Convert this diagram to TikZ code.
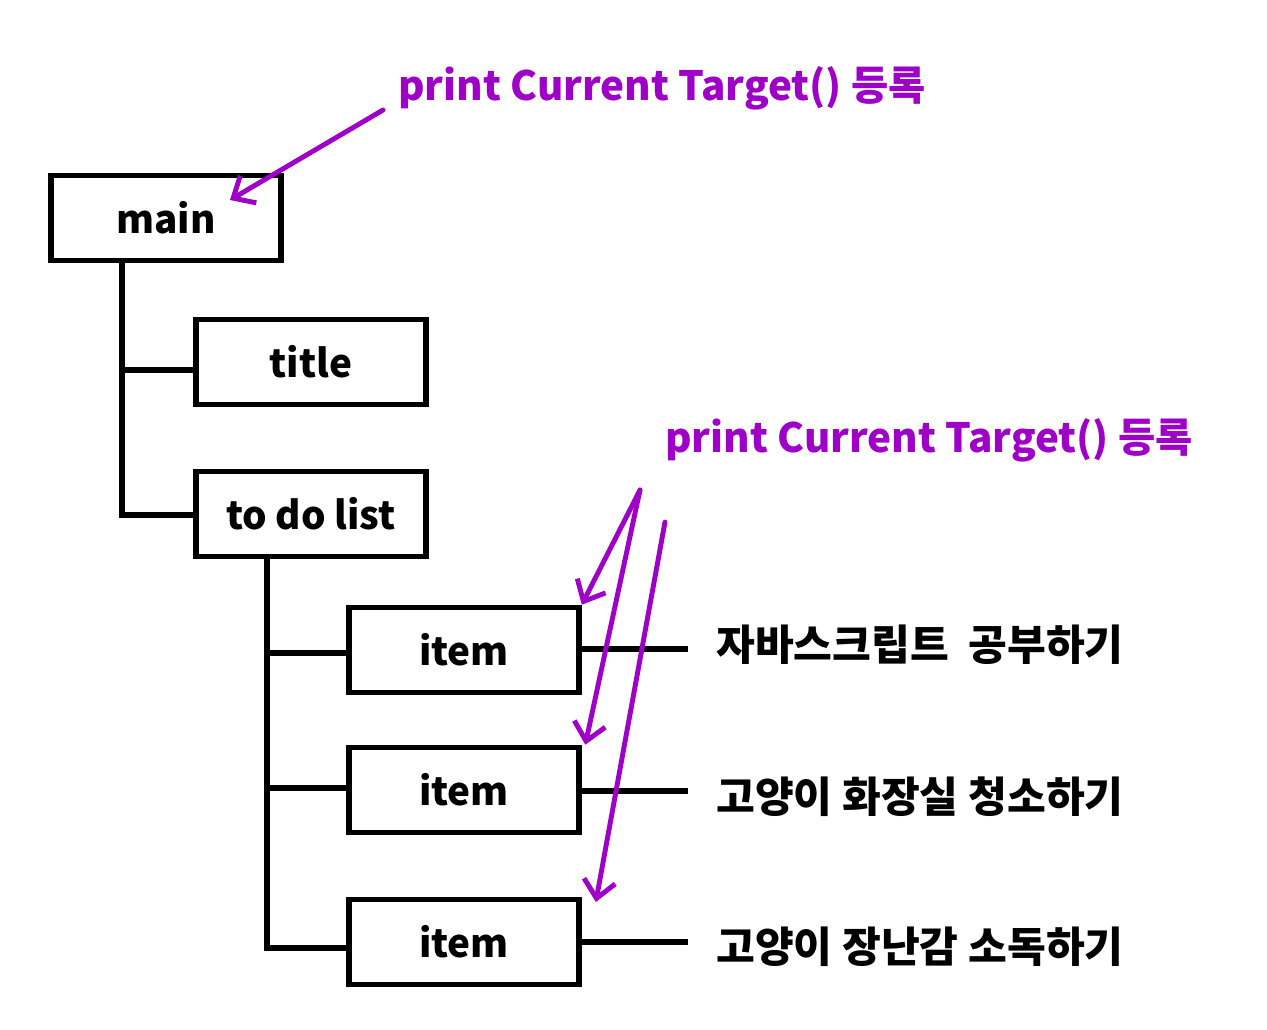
\documentclass[tikz,border=0pt]{standalone}
\usepackage{fontspec}
\setmainfont{Noto Sans CJK KR}
\usetikzlibrary{arrows.meta}
\definecolor{hpurple}{HTML}{9E00C8}
\tikzset{
  box/.style={draw=black, line width=3.2pt, minimum width=4.6cm, minimum height=1.7cm, inner sep=0pt, font=\bfseries\fontsize{22}{24}\selectfont},
  tree/.style={draw=black, line width=3.2pt},
  note/.style={text=hpurple, inner sep=0pt, anchor=west, font=\bfseries\fontsize{23}{25}\selectfont},
  todo/.style={inner sep=0pt, anchor=west, font=\bfseries\fontsize{24}{26}\selectfont},
  parrow/.style={draw=hpurple, line width=2.8pt, line cap=round, -{Straight Barb[length=10pt,width=18pt,line width=2.8pt]}}
}
\begin{document}
\begin{tikzpicture}[x=0.02cm,y=-0.02cm]
\useasboundingbox (0,0) rectangle (1267,1029);
% boxes
\node[box] (main) at (166,218) {main};
\node[box] (title) at (311,362) {title};
\node[box] (todo) at (311,514) {to do list};
\node[box] (it1) at (464,650) {item};
\node[box] (it2) at (464,790) {item};
\node[box] (it3) at (464,942) {item};
% tree lines
\coordinate (j1) at (122,370);
\coordinate (j2) at (122,515);
\coordinate (k1) at (267,653);
\coordinate (k2) at (267,788);
\coordinate (k3) at (267,948);
\draw[tree] (main.south -| j1) -- (j2) -- (todo.west |- j2);
\draw[tree] (j1) -- (title.west |- j1);
\draw[tree] (todo.south -| k1) -- (k3) -- (it3.west |- k3);
\draw[tree] (k1) -- (it1.west |- k1);
\draw[tree] (k2) -- (it2.west |- k2);
% right labels
\coordinate (e1) at (688,649);
\coordinate (e2) at (688,791);
\coordinate (e3) at (688,942);
\draw[tree] (it1.east |- e1) -- (e1);
\draw[tree] (it2.east |- e2) -- (e2);
\draw[tree] (it3.east |- e3) -- (e3);
\node[todo] (t1) at (716,645) {자바스크립트\ \ 공부하기};
\node[todo] (t2) at (716,797) {고양이\ 화장실 청소하기};
\node[todo] (t3) at (716,947) {고양이 장난감\ 소독하기};
% purple notes
\node[note] (n1) at (398,88) {print Current Target() 등록};
\node[note] (n2) at (665,440) {print Current Target() 등록};
\coordinate (s1) at (383,110);
\coordinate (s2) at (640,490);
\coordinate (s3) at (665,522);
\coordinate (a1) at (230,200);
\draw[parrow] (s1) -- (a1);
\draw[parrow] (s2) -- (it1.north east);
\draw[parrow] (s2) -- ([xshift=2pt]it2.north east);
\draw[parrow] (s3) -- ([xshift=8pt,yshift=-3pt]it3.north east);
\end{tikzpicture}
\end{document}
